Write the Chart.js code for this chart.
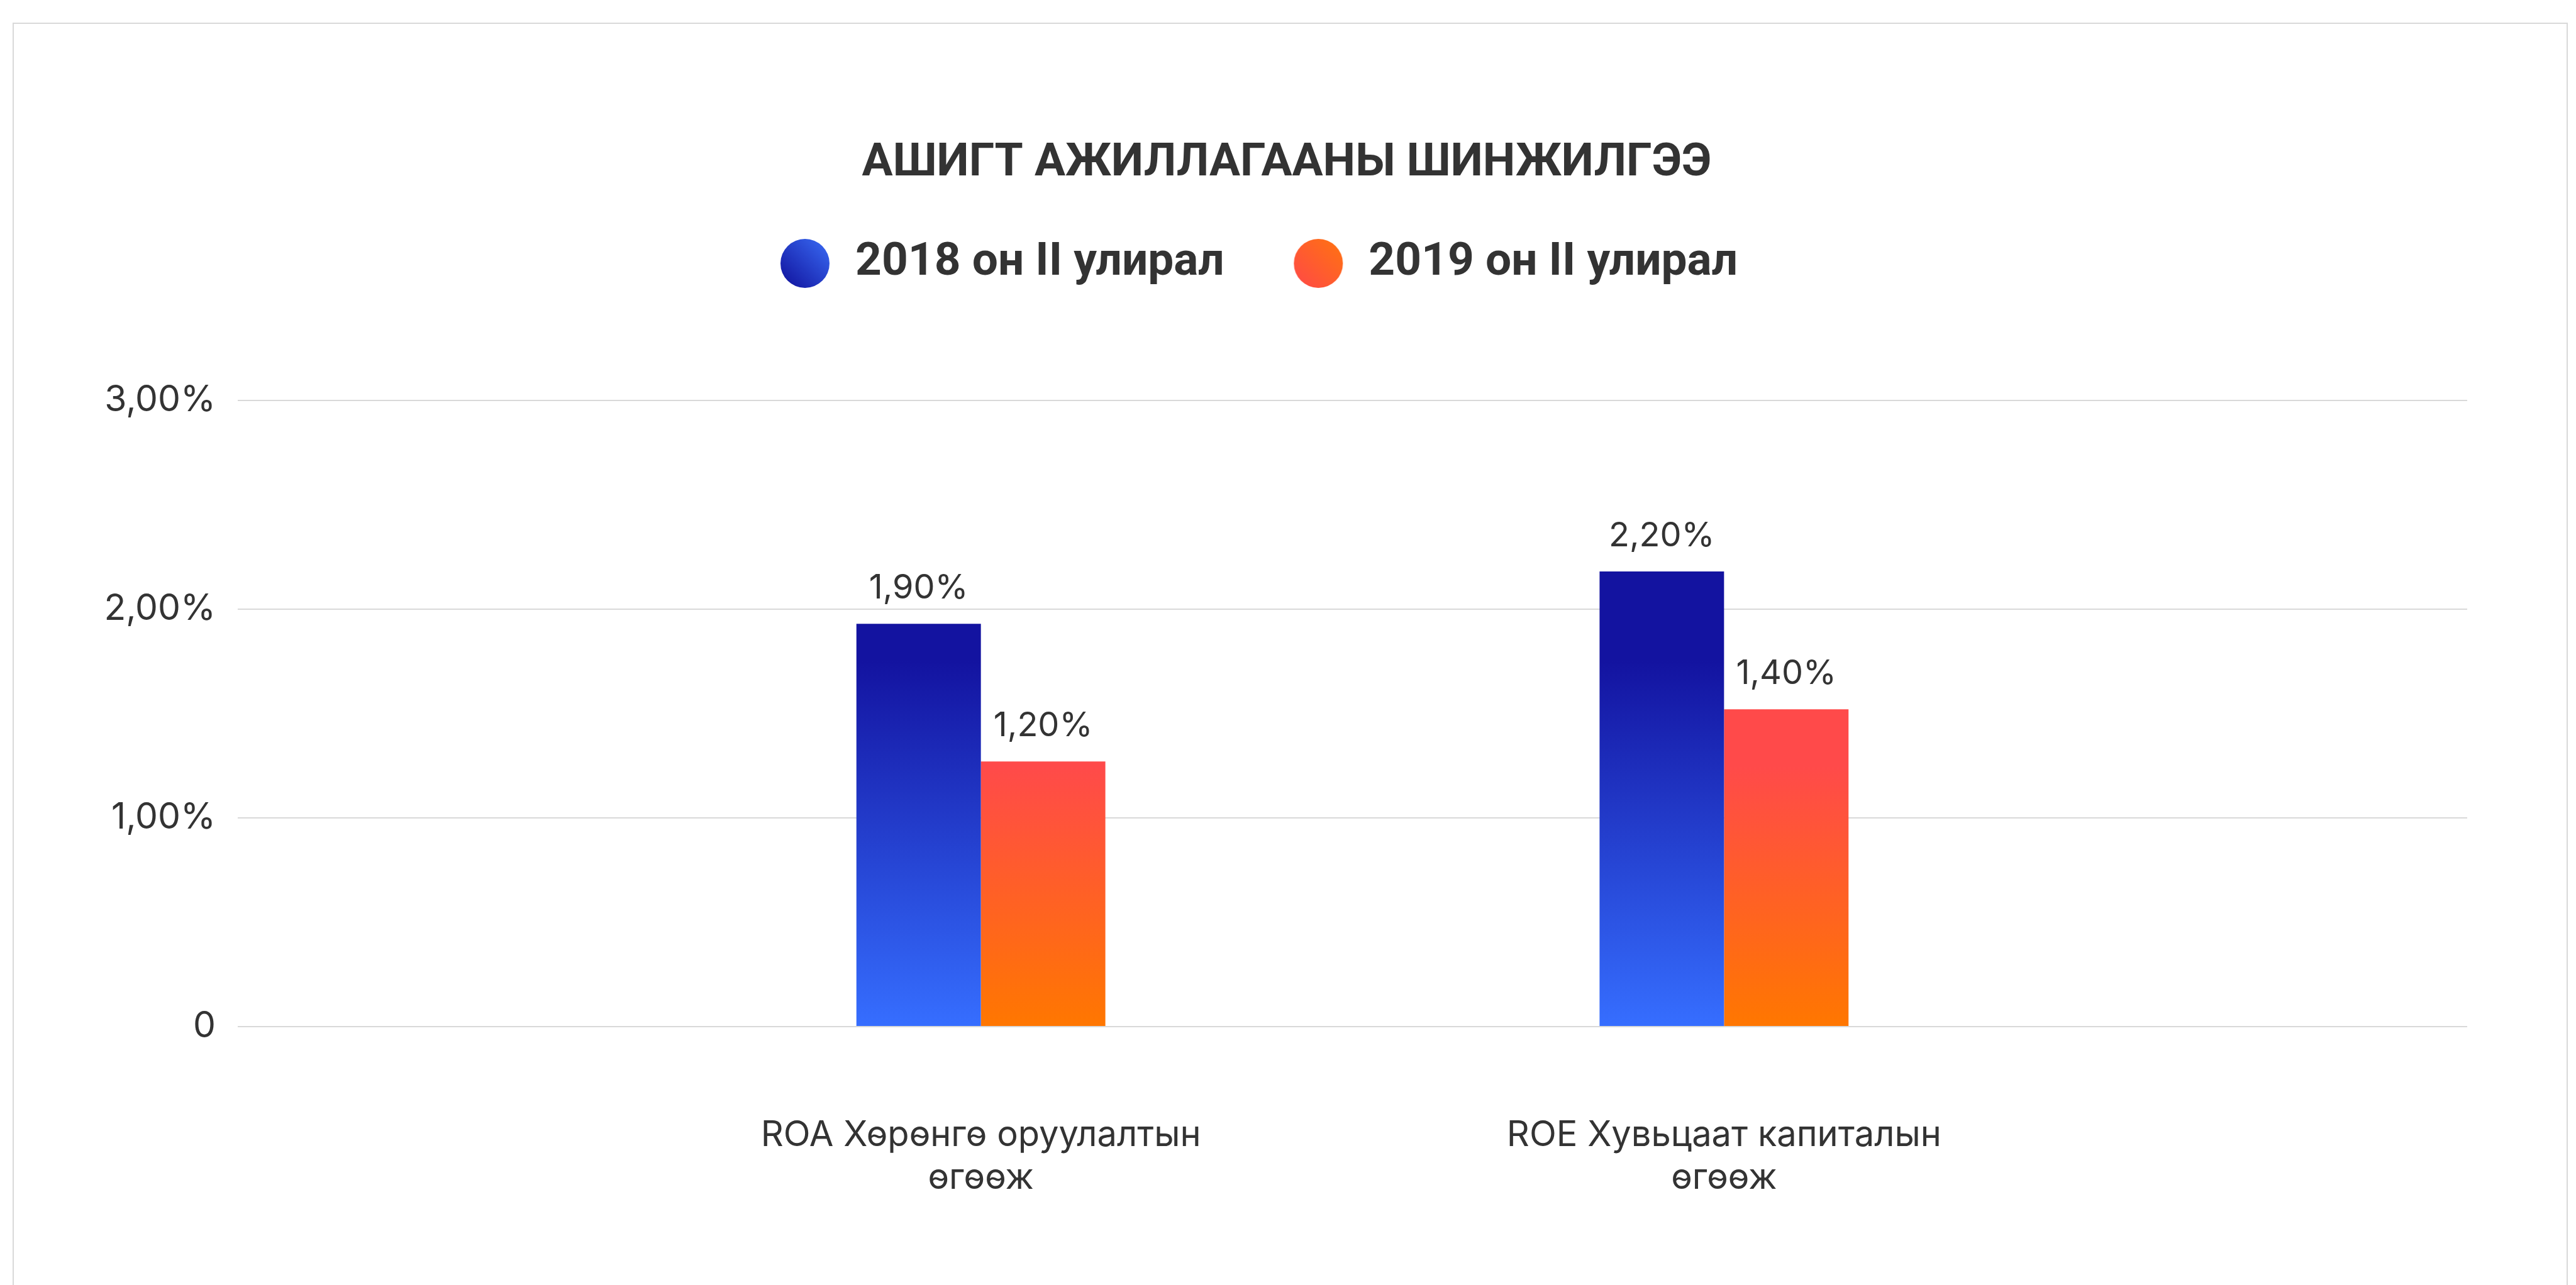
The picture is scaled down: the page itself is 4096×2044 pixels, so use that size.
<!DOCTYPE html>
<html><head><meta charset="utf-8">
<script src="https://cdn.jsdelivr.net/npm/chart.js@4.4.1/dist/chart.umd.min.js"></script>
<style>
html,body{margin:0;padding:0;background:#fff;overflow:hidden;}
#wrap{position:relative;width:4096px;height:2044px;}
#card{position:absolute;left:20px;top:36px;width:4063px;height:2100px;border:2px solid #d9d9d9;box-sizing:border-box;background:#fff;}
canvas{position:absolute;left:0;top:0;}
</style></head><body>
<div id="wrap"><div id="card"></div><canvas id="c" width="4096" height="2044"></canvas></div>
<script>
// ---- data ----
const titleText = 'АШИГТ АЖИЛЛАГААНЫ ШИНЖИЛГЭЭ';
const categories = ['', ['ROA Хөрөнгө оруулалтын', 'өгөөж'], ['ROE Хувьцаат капиталын', 'өгөөж'], ''];
const seriesNames = ['2018 он II улирал', '2019 он II улирал'];
const values2018 = [null, 1.93, 2.18, null];
const values2019 = [null, 1.27, 1.52, null];
const valueLabels2018 = [null, '1,90%', '2,20%', null];
const valueLabels2019 = [null, '1,20%', '1,40%', null];
const yTickValues = [0, 1, 2, 3];
const yTickLabels = ['0', '1,00%', '2,00%', '3,00%'];

// ---- styling ----
const FONT = 'Inter';
const HEAD_FONT = 'Roboto';
const HEAD_SIZE = 73;
const TEXT = '#333333';
const TITLE_Y = 261;
const LEGEND_Y = 419;
const LEGEND_BOX = 153;
const LEGEND_PAD = 40;
const LEGEND_TEXT_X = 1360;

function makeLegendCircle(cDark, cLight, offset) {
  const r = 39;
  const cv = document.createElement('canvas');
  cv.width = 2 * (Math.abs(offset) + r + 2);
  cv.height = 2 * (r + 2);
  const g = cv.getContext('2d');
  const cx = cv.width / 2 + offset, cy = cv.height / 2;
  const gr = g.createLinearGradient(cx - r, cy + r, cx + r, cy - r);
  gr.addColorStop(0, cDark);
  gr.addColorStop(1, cLight);
  g.fillStyle = gr;
  g.beginPath(); g.arc(cx, cy, r, 0, Math.PI * 2); g.fill();
  return cv;
}
const circleOffset = LEGEND_BOX / 2 + HEAD_SIZE / 2 - 80;
const legendImgs = [
  makeLegendCircle('#0f0f9a', '#3a6cf5', circleOffset),
  makeLegendCircle('#ff4848', '#ff7410', circleOffset)
];

function barGradient(ctx, top, bottom, cTop, cBottom) {
  const chart = ctx.chart;
  const y = chart.scales.y;
  if (!y || !chart.chartArea) return cTop;
  const g = chart.ctx.createLinearGradient(0, y.getPixelForValue(top), 0, y.getPixelForValue(bottom));
  g.addColorStop(0, cTop);
  g.addColorStop(1, cBottom);
  return g;
}

const valueLabels = [valueLabels2018, valueLabels2019];
const dataLabelPlugin = {
  id: 'dataLabels',
  afterDatasetsDraw(chart) {
    const ctx = chart.ctx;
    ctx.save();
    ctx.font = '54px ' + FONT;
    ctx.fillStyle = TEXT;
    ctx.textAlign = 'center';
    ctx.textBaseline = 'alphabetic';
    chart.data.datasets.forEach((ds, di) => {
      const meta = chart.getDatasetMeta(di);
      meta.data.forEach((el, i) => {
        const t = valueLabels[di][i];
        if (t == null || ds.data[i] == null) return;
        ctx.fillText(t, el.x, el.y - 40);
      });
    });
    ctx.restore();
  }
};
// shift the centred legend row so its first label starts where the reference's does
const legendShift = {
  id: 'legendShift',
  afterLayout(chart) {
    const lg = chart.legend;
    if (!lg || !lg.lineWidths) return;
    const cursorX = (lg.left + LEGEND_PAD + lg.right - lg.lineWidths[0]) / 2;
    const dx = LEGEND_TEXT_X - (cursorX + LEGEND_BOX + HEAD_SIZE / 2);
    lg.left += dx; lg.right += dx;
  }
};

const legendTop = LEGEND_Y - HEAD_SIZE / 2 - LEGEND_PAD;

new Chart(document.getElementById('c'), {
  type: 'bar',
  data: {
    labels: categories,
    datasets: [
      { label: seriesNames[0], data: values2018,
        backgroundColor: c => barGradient(c, 1.75, 0, '#1313a0', '#366eff') },
      { label: seriesNames[1], data: values2019,
        backgroundColor: c => barGradient(c, 1.25, 0, '#ff4a4a', '#ff7700') }
    ]
  },
  options: {
    responsive: false,
    animation: false,
    devicePixelRatio: 1,
    layout: { padding: { left: 169, right: 173, top: 0, bottom: 135 } },
    datasets: { bar: { categoryPercentage: 0.335, barPercentage: 1, borderWidth: 0, skipNull: true } },
    plugins: {
      tooltip: { enabled: false },
      title: {
        display: true, text: titleText, color: TEXT,
        font: { family: HEAD_FONT, size: HEAD_SIZE, weight: 'bold', lineHeight: 1.2 },
        padding: { top: TITLE_Y - HEAD_SIZE * 0.6, bottom: legendTop - TITLE_Y - HEAD_SIZE * 0.6 }
      },
      legend: {
        display: true, position: 'top', align: 'center',
        labels: {
          usePointStyle: true, pointStyleWidth: LEGEND_BOX, padding: LEGEND_PAD,
          font: { family: HEAD_FONT, size: HEAD_SIZE, weight: 'bold' }, color: TEXT,
          generateLabels: chart => chart.data.datasets.map((ds, i) => ({
            text: ds.label, pointStyle: legendImgs[i], fillStyle: 'transparent',
            strokeStyle: 'transparent', lineWidth: 0, hidden: false,
            datasetIndex: i, fontColor: TEXT
          }))
        }
      }
    },
    scales: {
      x: {
        type: 'category', offset: false,
        grid: { display: false, drawTicks: false },
        border: { display: false },
        afterFit: s => { s.height = 276; },
        ticks: { color: TEXT, font: { family: FONT, size: 56, lineHeight: 1.22 },
                 padding: 139, maxRotation: 0, minRotation: 0, autoSkip: false }
      },
      y: {
        min: 0, max: 3.516,
        grid: { color: '#d9d9d9', lineWidth: 2, drawTicks: false },
        border: { display: false },
        afterFit: s => { s.width = 209; },
        ticks: {
          stepSize: 1, includeBounds: false, padding: 35, color: TEXT,
          font: { family: FONT, size: 57 },
          callback: v => { const i = yTickValues.indexOf(v); return i >= 0 ? yTickLabels[i] : ''; }
        }
      }
    }
  },
  plugins: [dataLabelPlugin, legendShift]
});
</script>
</body></html>
